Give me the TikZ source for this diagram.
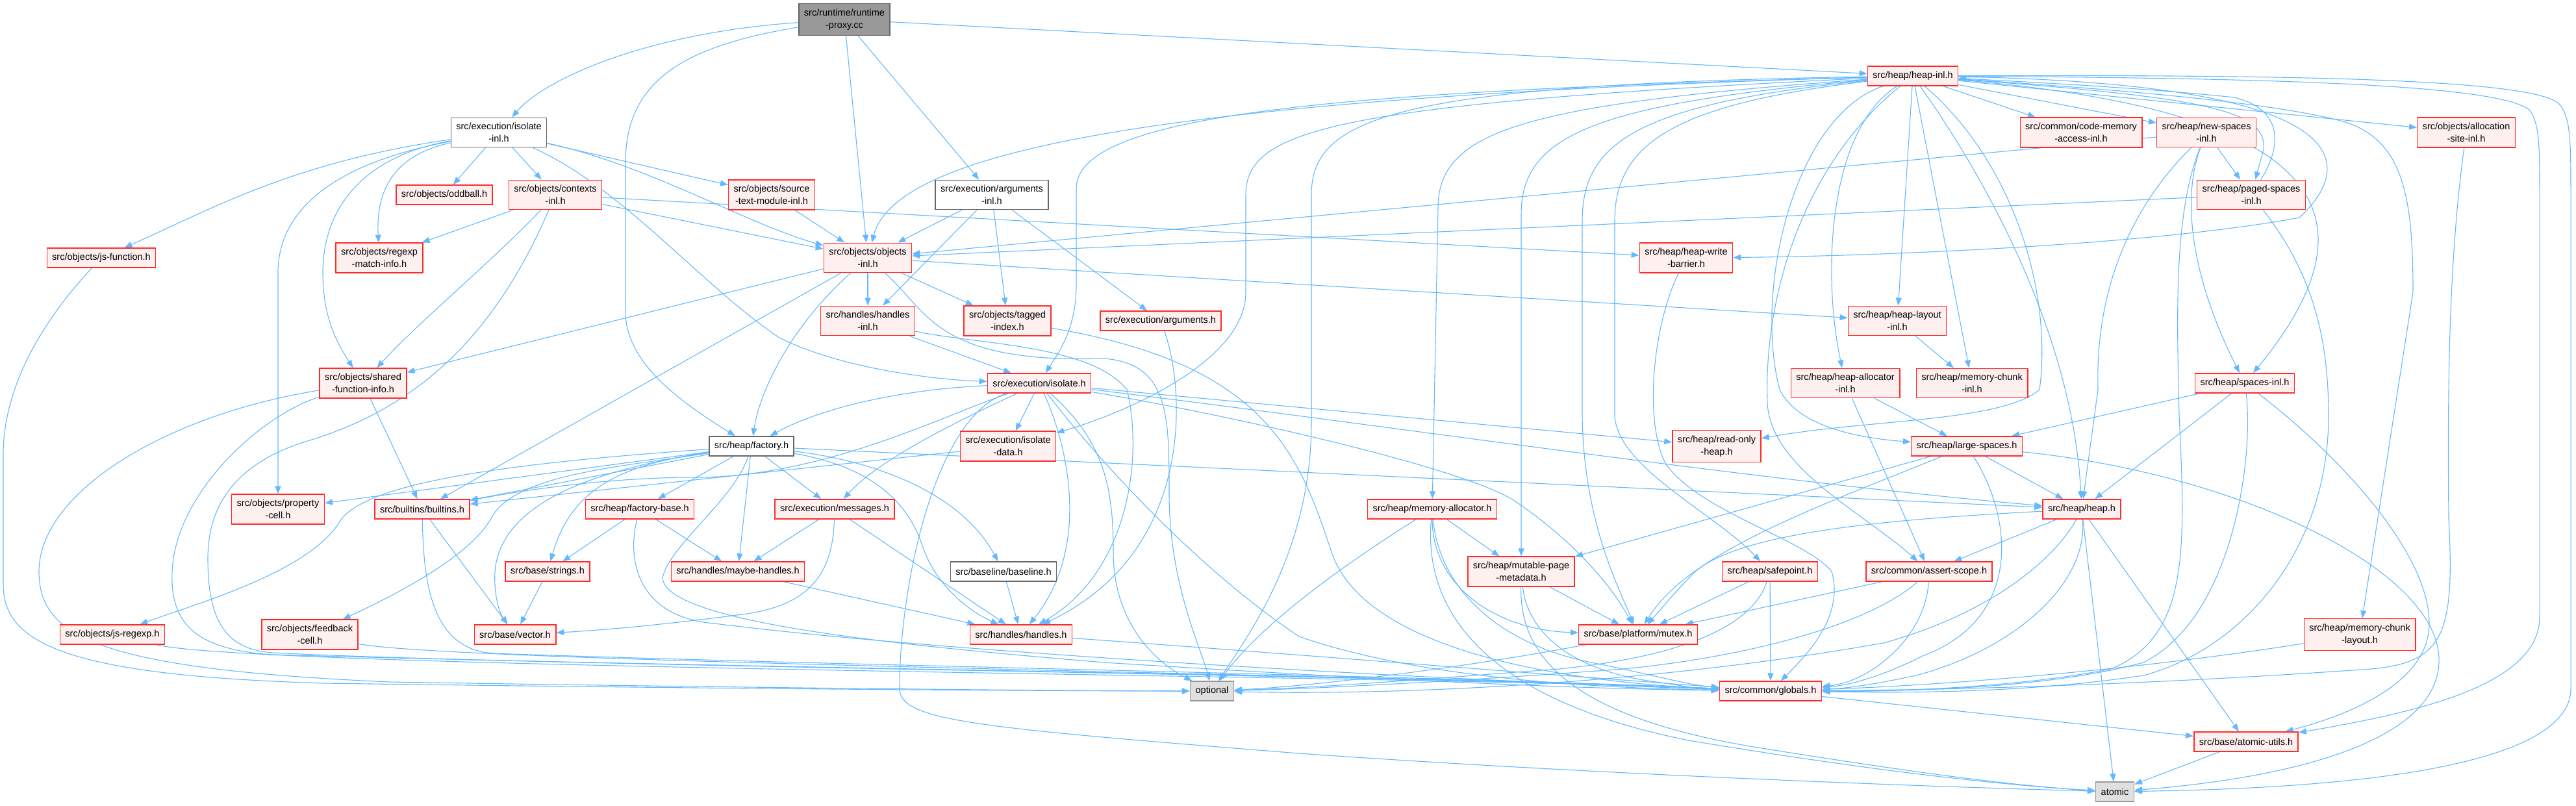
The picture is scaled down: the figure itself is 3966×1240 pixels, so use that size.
\documentclass[tikz,border=0pt]{standalone}
\usepackage{fontspec}
\newfontfamily\graphfont{Liberation Sans}
\usepackage{tikz}
\usetikzlibrary{
  arrows.meta % Triangle 箭头
}
\definecolor{edgeblue}{HTML}{63B8FF}
\definecolor{truncfill}{HTML}{FFF0F0}
\definecolor{truncline}{HTML}{FF2A2A}
\definecolor{rootfill}{HTML}{999999}
\definecolor{sysfill}{HTML}{E0E0E0}
\pgfdeclarelayer{edges}
\pgfsetlayers{edges,main}
\tikzset{
  trunc box/.style={
    draw=truncline,
    fill=truncfill,
    line width=1.4pt,
    font={\graphfont\fontsize{14.5}{19}\selectfont},
    align=center,
    inner xsep=8pt,
    inner ysep=8pt,
    minimum height=30pt
  },
  plain box/.style={
    trunc box,
    draw=black!60,
    fill=white
  },
  root box/.style={
    trunc box,
    draw=black!60,
    fill=rootfill
  },
  sys box/.style={
    trunc box,
    draw=black!40,
    fill=sysfill
  },
  inc edge/.style={
    -{Triangle[length=12pt,width=9pt]},
    line width=1.1pt,
    draw=edgeblue
  }
}

\begin{document}
\begin{tikzpicture}[x=1pt, y=-1pt] % 坐标按像素取，y 轴向下
  \useasboundingbox (0,0) rectangle (3966,1240);

  % 文件节点
  \node[root box]  (runtime)      at (1300,30)   {src/runtime/runtime\\-proxy.cc};
  \node[trunc box] (heapinl)      at (2945,117)  {src/heap/heap-inl.h};
  \node[plain box] (isolateinl)   at (768,204)   {src/execution/isolate\\-inl.h};
  \node[trunc box] (codemem)      at (3204,204)  {src/common/code-memory\\-access-inl.h};
  \node[trunc box] (newspaces)    at (3397,204)  {src/heap/new-spaces\\-inl.h};
  \node[trunc box] (allocsite)    at (3797,204)  {src/objects/allocation\\-site-inl.h};
  \node[trunc box] (oddball)      at (684,300)   {src/objects/oddball.h};
  \node[trunc box] (contexts)     at (855,300)   {src/objects/contexts\\-inl.h};
  \node[trunc box] (sourcetext)   at (1188,300)  {src/objects/source\\-text-module-inl.h};
  \node[plain box] (argsinl)      at (1527,300)  {src/execution/arguments\\-inl.h};
  \node[trunc box] (paged)        at (3466,300)  {src/heap/paged-spaces\\-inl.h};
  \node[trunc box] (jsfunction)   at (156,397)   {src/objects/js-function.h};
  \node[trunc box] (regexpmatch)  at (584,397)   {src/objects/regexp\\-match-info.h};
  \node[trunc box] (objectsinl)   at (1336,397)  {src/objects/objects\\-inl.h};
  \node[trunc box] (writebarrier) at (2596,397)  {src/heap/heap-write\\-barrier.h};
  \node[trunc box] (handlesinl)   at (1336,494)  {src/handles/handles\\-inl.h};
  \node[trunc box] (taggedindex)  at (1551,494)  {src/objects/tagged\\-index.h};
  \node[trunc box] (arguments)    at (1787,494)  {src/execution/arguments.h};
  \node[trunc box] (layoutinl)    at (2921,494)  {src/heap/heap-layout\\-inl.h};
  \node[trunc box] (sfi)          at (559,590)   {src/objects/shared\\-function-info.h};
  \node[trunc box] (isolate)      at (1600,590)  {src/execution/isolate.h};
  \node[trunc box] (allocatorinl) at (2841,590)  {src/heap/heap-allocator\\-inl.h};
  \node[trunc box] (chunkinl)     at (3036,590)  {src/heap/memory-chunk\\-inl.h};
  \node[trunc box] (spacesinl)    at (3456,590)  {src/heap/spaces-inl.h};
  \node[plain box] (factory)      at (1157,687)  {src/heap/factory.h};
  \node[trunc box] (isolatedata)  at (1552,687)  {src/execution/isolate\\-data.h};
  \node[trunc box] (readonly)     at (2643,687)  {src/heap/read-only\\-heap.h};
  \node[trunc box] (largespaces)  at (3028,687)  {src/heap/large-spaces.h};
  \node[trunc box] (propcell)     at (428,784)   {src/objects/property\\-cell.h};
  \node[trunc box] (builtins)     at (650,784)   {src/builtins/builtins.h};
  \node[trunc box] (factorybase)  at (985,784)   {src/heap/factory-base.h};
  \node[trunc box] (messages)     at (1285,784)  {src/execution/messages.h};
  \node[trunc box] (memalloc)     at (2205,784)  {src/heap/memory-allocator.h};
  \node[trunc box] (heap)         at (3205,784)  {src/heap/heap.h};
  \node[trunc box] (strings)      at (843,880)   {src/base/strings.h};
  \node[trunc box] (maybehandles) at (1136,880)  {src/handles/maybe-handles.h};
  \node[plain box] (baseline)     at (1545,880)  {src/baseline/baseline.h};
  \node[trunc box] (mutablepage)  at (2342,880)  {src/heap/mutable-page\\-metadata.h};
  \node[trunc box] (safepoint)    at (2725,880)  {src/heap/safepoint.h};
  \node[trunc box] (assertscope)  at (2970,880)  {src/common/assert-scope.h};
  \node[trunc box] (jsregexp)     at (173,977)   {src/objects/js-regexp.h};
  \node[trunc box] (feedback)     at (477,977)   {src/objects/feedback\\-cell.h};
  \node[trunc box] (vector)       at (793,977)   {src/base/vector.h};
  \node[trunc box] (handles)      at (1572,977)  {src/handles/handles.h};
  \node[trunc box] (mutex)        at (2522,977)  {src/base/platform/mutex.h};
  \node[trunc box] (chunklayout)  at (3633,977)  {src/heap/memory-chunk\\-layout.h};
  \node[sys box]   (optional)     at (1866,1064) {optional};
  \node[trunc box] (globals)      at (2726,1064) {src/common/globals.h};
  \node[trunc box] (atomicutils)  at (3458,1142) {src/base/atomic-utils.h};
  \node[sys box]   (atomic)       at (3256,1219) {atomic};

  \begin{pgfonlayer}{edges}
  % runtime-proxy.cc
  \draw[inc edge] (runtime) .. controls (1000,50) and (840,120) .. (isolateinl);
  \draw[inc edge] (runtime) .. controls (1060,70) and (963,120) .. (963,250) -- (963,480) .. controls (963,560) and (1050,620) .. (factory);
  \draw[inc edge] (runtime) -- (objectsinl);
  \draw[inc edge] (runtime) -- (argsinl);
  \draw[inc edge] (runtime) -- (heapinl);

  % heap-inl.h 向左
  \draw[inc edge] (heapinl) .. controls (1800,150) and (1380,230) .. (objectsinl);
  \draw[inc edge] (heapinl) .. controls (2100,140) and (1657,170) .. (1657,290) -- (1657,440) .. controls (1657,510) and (1625,550) .. (isolate);
  \draw[inc edge] (heapinl) .. controls (2050,160) and (1918,200) .. (1918,300) -- (1918,450) .. controls (1918,560) and (1720,640) .. (isolatedata);
  \draw[inc edge] (heapinl) .. controls (2150,130) and (2019,180) .. (2019,300) -- (2019,650) .. controls (2019,850) and (1920,980) .. (optional);
  \draw[inc edge] (heapinl) .. controls (2350,160) and (2214,200) .. (2214,320) -- (memalloc);
  \draw[inc edge] (heapinl) .. controls (2450,160) and (2342,210) .. (2342,330) -- (mutablepage);
  \draw[inc edge] (heapinl) .. controls (2520,160) and (2436,220) .. (2436,340) -- (2436,640) .. controls (2438,800) and (2490,900) .. (mutex);
  \draw[inc edge] (heapinl) .. controls (2580,160) and (2486,220) .. (2486,340) -- (2486,640) .. controls (2490,720) and (2640,790) .. (safepoint);
  \draw[inc edge] (heapinl) .. controls (2760,180) and (2700,450) .. (2740,600) .. controls (2770,660) and (2870,675) .. (largespaces);
  \draw[inc edge] (heapinl) .. controls (2780,250) and (2715,450) .. (2721,620) .. controls (2725,720) and (2870,790) .. (assertscope);
  \draw[inc edge] (heapinl) .. controls (2815,200) and (2805,420) .. (allocatorinl);
  \draw[inc edge] (heapinl) -- (layoutinl);
  \draw[inc edge] (heapinl) -- (chunkinl);
  \draw[inc edge] (heapinl) .. controls (3100,250) and (3160,450) .. (3140,600) .. controls (3080,650) and (2880,645) .. (readonly);
  \draw[inc edge] (heapinl) .. controls (3040,250) and (3190,500) .. (heap);
  % heap-inl.h 向右
  \draw[inc edge] (heapinl) -- (codemem);
  \draw[inc edge] (heapinl) -- (newspaces);
  \draw[inc edge] (heapinl) -- (allocsite);
  \draw[inc edge] (heapinl) .. controls (3400,150) and (3490,170) .. (3485,230) -- (paged);
  \draw[inc edge] (paged) .. controls (3510,230) and (3520,170) .. (3440,150) .. controls (3300,135) and (3100,125) .. (heapinl);
  \draw[inc edge] (heapinl) .. controls (3580,170) and (3670,330) .. (spacesinl);
  \draw[inc edge] (heapinl) .. controls (3700,130) and (3600,280) .. (3540,335) .. controls (3300,380) and (2850,395) .. (writebarrier);
  \draw[inc edge] (heapinl) .. controls (3300,140) and (3500,160) .. (3600,185) .. controls (3700,210) and (3715,300) .. (3715,450) -- (chunklayout);
  \draw[inc edge] (heapinl) .. controls (3500,120) and (3850,130) .. (3895,170) .. controls (3910,190) and (3910,230) .. (3910,300) -- (3910,950) .. controls (3910,1060) and (3700,1100) .. (atomicutils);
  \draw[inc edge] (heapinl) .. controls (3500,115) and (3900,120) .. (3940,160) .. controls (3958,180) and (3958,220) .. (3958,300) -- (3958,1060) .. controls (3958,1200) and (3500,1215) .. (atomic);

  % isolate-inl.h
  \draw[inc edge] (isolateinl) .. controls (450,250) and (330,320) .. (jsfunction);
  \draw[inc edge] (isolateinl) .. controls (520,250) and (428,320) .. (428,420) -- (propcell);
  \draw[inc edge] (isolateinl) .. controls (560,240) and (497,320) .. (497,420) .. controls (497,490) and (520,530) .. (sfi);
  \draw[inc edge] (isolateinl) .. controls (600,240) and (579,300) .. (regexpmatch);
  \draw[inc edge] (isolateinl) -- (oddball);
  \draw[inc edge] (isolateinl) -- (contexts);
  \draw[inc edge] (isolateinl) -- (sourcetext);
  \draw[inc edge] (isolateinl) .. controls (1000,255) and (1150,345) .. (objectsinl);
  \draw[inc edge] (isolateinl) .. controls (960,290) and (1080,440) .. (1200,520) .. controls (1300,570) and (1450,585) .. (isolate);

  % contexts-inl.h
  \draw[inc edge] (contexts) -- (regexpmatch);
  \draw[inc edge] (contexts) .. controls (760,400) and (640,500) .. (sfi);
  \draw[inc edge] (contexts) -- (objectsinl);
  \draw[inc edge] (contexts) -- (writebarrier);
  \draw[inc edge] (contexts) .. controls (760,520) and (640,630) .. (470,680) .. controls (360,715) and (320,780) .. (320,860) .. controls (320,960) and (350,1000) .. (420,1005) .. controls (800,1025) and (2200,1040) .. (globals);

  \draw[inc edge] (sourcetext) -- (objectsinl);

  % arguments-inl.h
  \draw[inc edge] (argsinl) -- (objectsinl);
  \draw[inc edge] (argsinl) -- (handlesinl);
  \draw[inc edge] (argsinl) -- (taggedindex);
  \draw[inc edge] (argsinl) -- (arguments);

  % objects-inl.h
  \draw[inc edge] (objectsinl) -- (handlesinl);
  \draw[inc edge] (objectsinl) -- (taggedindex);
  \draw[inc edge] (objectsinl) -- (sfi);
  \draw[inc edge] (objectsinl) -- (builtins);
  \draw[inc edge] (objectsinl) .. controls (1220,500) and (1170,600) .. (factory);
  \draw[inc edge] (objectsinl) -- (layoutinl);
  \draw[inc edge] (objectsinl) .. controls (1430,480) and (1440,560) .. (1700,552) .. controls (1800,560) and (1800,640) .. (1800,760) .. controls (1800,900) and (1850,1000) .. (optional);

  % new-spaces / paged-spaces / spaces
  \draw[inc edge] (newspaces) -- (objectsinl);
  \draw[inc edge] (newspaces) -- (paged);
  \draw[inc edge] (newspaces) .. controls (3360,300) and (3370,420) .. (spacesinl);
  \draw[inc edge] (newspaces) .. controls (3300,300) and (3225,420) .. (3230,600) -- (heap);
  \draw[inc edge] (newspaces) .. controls (3345,330) and (3352,500) .. (3355,640) .. controls (3365,850) and (3370,980) .. (3250,1030) .. controls (3100,1060) and (2900,1065) .. (globals);
  \draw[inc edge] (paged) -- (objectsinl);
  \draw[inc edge] (paged) .. controls (3560,420) and (3585,520) .. (3585,640) .. controls (3585,850) and (3450,1000) .. (3300,1040) .. controls (3100,1070) and (2900,1066) .. (globals);
  \draw[inc edge] (allocsite) .. controls (3770,400) and (3768,600) .. (3770,800) .. controls (3780,980) and (3760,1020) .. (3650,1030) .. controls (3300,1055) and (3000,1062) .. (globals);
  \draw[inc edge] (spacesinl) -- (heap);
  \draw[inc edge] (spacesinl) -- (largespaces);
  \draw[inc edge] (spacesinl) .. controls (3470,700) and (3440,950) .. (3300,1020) .. controls (3150,1060) and (2950,1064) .. (globals);
  \draw[inc edge] (spacesinl) .. controls (3600,700) and (3740,850) .. (3740,960) .. controls (3740,1050) and (3620,1100) .. (atomicutils);
  \draw[inc edge] (chunklayout) .. controls (3300,1030) and (3000,1055) .. (globals);

  % handles / arguments / tagged-index
  \draw[inc edge] (handlesinl) -- (isolate);
  \draw[inc edge] (handlesinl) .. controls (1500,530) and (1680,530) .. (1735,600) .. controls (1760,700) and (1740,880) .. (handles);
  \draw[inc edge] (arguments) .. controls (1825,600) and (1840,850) .. (handles);
  \draw[inc edge] (taggedindex) .. controls (1950,560) and (2000,700) .. (2050,850) .. controls (2100,1000) and (2400,1050) .. (globals);

  % isolate.h
  \draw[inc edge] (isolate) .. controls (1380,600) and (1260,630) .. (factory);
  \draw[inc edge] (isolate) -- (isolatedata);
  \draw[inc edge] (isolate) .. controls (1470,650) and (1350,710) .. (messages);
  \draw[inc edge] (isolate) .. controls (1450,640) and (1260,740) .. (1050,735) .. controls (900,738) and (780,760) .. (builtins);
  \draw[inc edge] (isolate) .. controls (1650,700) and (1675,850) .. (handles);
  \draw[inc edge] (isolate) .. controls (1700,680) and (1714,750) .. (1714,850) .. controls (1714,960) and (1780,1020) .. (optional);
  \draw[inc edge] (isolate) .. controls (1700,720) and (1850,880) .. (2000,980) .. controls (2200,1050) and (2500,1060) .. (globals);
  \draw[inc edge] (isolate) .. controls (1440,640) and (1385,900) .. (1385,1060) .. controls (1385,1110) and (1500,1120) .. (2000,1160) .. controls (2500,1195) and (3000,1212) .. (atomic);
  \draw[inc edge] (isolate) .. controls (2100,650) and (2700,740) .. (heap);
  \draw[inc edge] (isolate) -- (readonly);
  \draw[inc edge] (isolate) .. controls (1900,640) and (2250,720) .. (2330,770) .. controls (2420,830) and (2480,900) .. (mutex);
  \draw[inc edge] (isolatedata) -- (builtins);

  % factory.h
  \draw[inc edge] (factory) -- (propcell);
  \draw[inc edge] (factory) -- (builtins);
  \draw[inc edge] (factory) .. controls (800,712) and (570,740) .. (525,800) .. controls (480,880) and (300,930) .. (jsregexp);
  \draw[inc edge] (factory) .. controls (950,720) and (790,730) .. (755,800) .. controls (720,860) and (600,920) .. (feedback);
  \draw[inc edge] (factory) .. controls (960,715) and (880,750) .. (strings);
  \draw[inc edge] (factory) .. controls (900,725) and (770,780) .. (762,880) .. controls (760,920) and (770,945) .. (vector);
  \draw[inc edge] (factory) -- (factorybase);
  \draw[inc edge] (factory) -- (maybehandles);
  \draw[inc edge] (factory) -- (messages);
  \draw[inc edge] (factory) -- (heap);
  \draw[inc edge] (factory) .. controls (1350,720) and (1400,780) .. (1420,840) .. controls (1440,900) and (1490,940) .. (handles);
  \draw[inc edge] (factory) .. controls (1350,710) and (1480,760) .. (baseline);
  \draw[inc edge] (factory) .. controls (1130,770) and (1030,840) .. (1020,890) .. controls (1025,960) and (1400,995) .. (1700,1020) .. controls (2100,1045) and (2400,1060) .. (globals);

  % 中层头文件
  \draw[inc edge] (factorybase) -- (strings);
  \draw[inc edge] (factorybase) -- (maybehandles);
  \draw[inc edge] (factorybase) .. controls (965,860) and (980,950) .. (1100,960) .. controls (1500,1010) and (2300,1050) .. (globals);
  \draw[inc edge] (messages) -- (maybehandles);
  \draw[inc edge] (messages) -- (handles);
  \draw[inc edge] (messages) .. controls (1282,880) and (1250,930) .. (1150,945) .. controls (1000,965) and (900,972) .. (vector);
  \draw[inc edge] (maybehandles) -- (handles);
  \draw[inc edge] (baseline) -- (handles);
  \draw[inc edge] (strings) -- (vector);
  \draw[inc edge] (builtins) -- (vector);
  \draw[inc edge] (builtins) .. controls (652,900) and (665,1000) .. (760,1006) .. controls (1300,1025) and (2200,1040) .. (globals);
  \draw[inc edge] (sfi) -- (builtins);
  \draw[inc edge] (sfi) .. controls (250,640) and (60,760) .. (60,880) .. controls (60,980) and (150,1030) .. (600,1050) .. controls (1200,1060) and (1700,1064) .. (optional);
  \draw[inc edge] (sfi) .. controls (400,640) and (270,760) .. (265,880) .. controls (262,960) and (300,1000) .. (420,1008) .. controls (1200,1030) and (2200,1040) .. (globals);
  \draw[inc edge] (jsfunction) .. controls (60,500) and (5,600) .. (5,700) -- (5,900) .. controls (5,990) and (100,1040) .. (500,1052) .. controls (1200,1062) and (1700,1064) .. (optional);
  \draw[inc edge] (jsregexp) .. controls (400,1030) and (2200,1040) .. (globals);
  \draw[inc edge] (feedback) .. controls (700,1020) and (2200,1040) .. (globals);
  \draw[inc edge] (handles) .. controls (1900,1000) and (2400,1040) .. (globals);

  % heap 相关
  \draw[inc edge] (writebarrier) .. controls (2545,500) and (2530,650) .. (2565,715) .. controls (2620,790) and (2780,830) .. (2820,880) .. controls (2840,950) and (2780,1010) .. (globals);
  \draw[inc edge] (layoutinl) -- (chunkinl);
  \draw[inc edge] (allocatorinl) -- (largespaces);
  \draw[inc edge] (allocatorinl) -- (assertscope);
  \draw[inc edge] (largespaces) -- (mutablepage);
  \draw[inc edge] (largespaces) -- (heap);
  \draw[inc edge] (largespaces) .. controls (2800,780) and (2600,850) .. (mutex);
  \draw[inc edge] (largespaces) .. controls (3450,730) and (3760,880) .. (3755,1020) .. controls (3750,1150) and (3500,1200) .. (atomic);
  \draw[inc edge] (largespaces) .. controls (3095,790) and (3120,950) .. (2960,1010) .. controls (2900,1040) and (2850,1055) .. (globals);
  \draw[inc edge] (heap) -- (assertscope);
  \draw[inc edge] (heap) .. controls (2900,800) and (2680,820) .. (2610,880) .. controls (2580,910) and (2560,935) .. (mutex);
  \draw[inc edge] (heap) .. controls (3215,900) and (3100,1000) .. (2950,1040) .. controls (2880,1055) and (2840,1060) .. (globals);
  \draw[inc edge] (heap) .. controls (3170,850) and (3080,940) .. (2900,990) .. controls (2500,1060) and (2100,1070) .. (optional);
  \draw[inc edge] (heap) -- (atomicutils);
  \draw[inc edge] (heap) -- (atomic);
  \draw[inc edge] (memalloc) -- (mutablepage);
  \draw[inc edge] (memalloc) .. controls (2205,900) and (2300,970) .. (mutex);
  \draw[inc edge] (memalloc) .. controls (2100,850) and (1950,950) .. (optional);
  \draw[inc edge] (memalloc) .. controls (2215,900) and (2300,990) .. (2450,1020) .. controls (2550,1040) and (2600,1055) .. (globals);
  \draw[inc edge] (memalloc) .. controls (2190,950) and (2300,1080) .. (2600,1140) .. controls (2900,1190) and (3100,1210) .. (atomic);
  \draw[inc edge] (mutablepage) -- (mutex);
  \draw[inc edge] (mutablepage) .. controls (2350,960) and (2400,1030) .. (2550,1050) .. controls (2600,1057) and (2620,1062) .. (globals);
  \draw[inc edge] (mutablepage) .. controls (2340,1000) and (2400,1100) .. (2700,1150) .. controls (2950,1190) and (3100,1210) .. (atomic);
  \draw[inc edge] (safepoint) -- (mutex);
  \draw[inc edge] (safepoint) -- (globals);
  \draw[inc edge] (safepoint) .. controls (2700,960) and (2600,1010) .. (2400,1030) .. controls (2200,1045) and (2050,1058) .. (optional);
  \draw[inc edge] (assertscope) -- (mutex);
  \draw[inc edge] (assertscope) .. controls (2965,980) and (2880,1050) .. (globals);
  \draw[inc edge] (assertscope) .. controls (2880,960) and (2700,1010) .. (2500,1030) .. controls (2300,1045) and (2050,1060) .. (optional);
  \draw[inc edge] (mutex) .. controls (2300,1020) and (2050,1055) .. (optional);
  \draw[inc edge] (globals) -- (atomicutils);
  \draw[inc edge] (atomicutils) -- (atomic);
  \end{pgfonlayer}

\end{tikzpicture}
\end{document}
